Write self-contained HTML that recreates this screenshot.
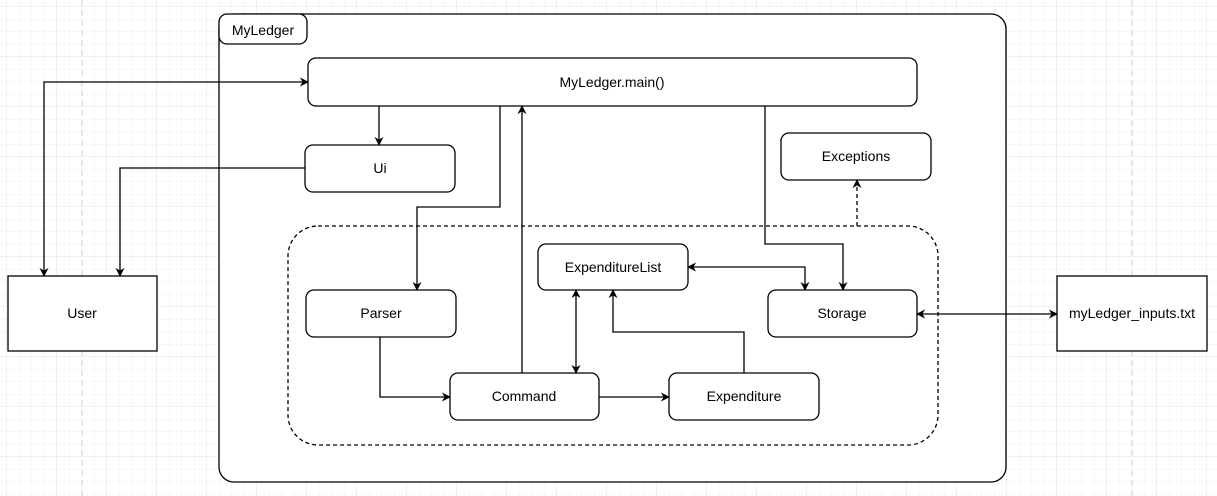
<!DOCTYPE html>
<html><head><meta charset="utf-8"><style>
html,body{margin:0;padding:0;background:#fff;}
svg{display:block;}
text{font-family:"Liberation Sans",Arial,sans-serif;font-size:14px;fill:#000;}
</style></head><body>
<svg width="1217" height="496" viewBox="0 0 1217 496" xmlns="http://www.w3.org/2000/svg">
<defs>
<pattern id="g1" width="12.5" height="12.5" patternUnits="userSpaceOnUse" x="7" y="7">
<path d="M12.5 0V12.5H0" fill="none" stroke="#f0f0f0" stroke-width="1"/>
</pattern>
<pattern id="g2" width="50" height="50" patternUnits="userSpaceOnUse" x="7" y="7">
<path d="M50 0V50H0" fill="none" stroke="#e0e0e0" stroke-width="1"/>
</pattern>
<marker id="a" viewBox="0 0 10 10" refX="9" refY="5" markerWidth="9" markerHeight="9" orient="auto-start-reverse" markerUnits="userSpaceOnUse">
<path d="M0 0L10 5L0 10L3 5Z" fill="#000"/>
</marker>
</defs>
<rect width="1217" height="496" fill="#fff"/>
<rect width="1217" height="496" fill="url(#g1)"/>
<rect width="1217" height="496" fill="url(#g2)"/>
<line x1="82" y1="0" x2="82" y2="496" stroke="#ccc" stroke-dasharray="6,4"/>
<line x1="1132" y1="0" x2="1132" y2="496" stroke="#ccc" stroke-dasharray="6,4"/>
<g fill="#fff" stroke="#000" stroke-width="1.3">
<rect x="219" y="14" width="787" height="468" rx="15"/>
<rect x="219" y="14" width="88" height="30" rx="8"/>
<rect x="288" y="226" width="650" height="219" rx="30" fill="none" stroke-dasharray="4,3"/>
<rect x="308" y="58" width="609" height="48" rx="8"/>
<rect x="305" y="145" width="150" height="47" rx="8"/>
<rect x="781" y="133" width="150" height="47" rx="8"/>
<rect x="538" y="244" width="150" height="46" rx="8"/>
<rect x="306" y="290" width="150" height="47" rx="8"/>
<rect x="768" y="290" width="149" height="47" rx="8"/>
<rect x="450" y="373" width="149" height="47" rx="8"/>
<rect x="669" y="373" width="150" height="47" rx="8"/>
<rect x="8" y="276" width="149" height="75"/>
<rect x="1057" y="276" width="150" height="75"/>
</g>
<g fill="none" stroke="#000" stroke-width="1.3">
<path d="M44 276V82H308" marker-start="url(#a)" marker-end="url(#a)"/>
<path d="M305 168H120V276" marker-end="url(#a)"/>
<path d="M379 106V145" marker-end="url(#a)"/>
<path d="M500 106V207H417V290" marker-end="url(#a)"/>
<path d="M522 373V106" marker-end="url(#a)"/>
<path d="M765 106V244H843V290" marker-end="url(#a)"/>
<path d="M688 267H805V290" marker-start="url(#a)" marker-end="url(#a)"/>
<path d="M857 226V180" stroke-dasharray="4,3" marker-end="url(#a)"/>
<path d="M917 314H1057" marker-start="url(#a)" marker-end="url(#a)"/>
<path d="M380 337V397H450" marker-end="url(#a)"/>
<path d="M599 397H669" marker-end="url(#a)"/>
<path d="M576 290V373" marker-start="url(#a)" marker-end="url(#a)"/>
<path d="M744 373V332H613V290" marker-end="url(#a)"/>
</g>
<g text-anchor="middle">
<text x="263" y="35">MyLedger</text>
<text x="612" y="87">MyLedger.main()</text>
<text x="380" y="173">Ui</text>
<text x="856" y="161">Exceptions</text>
<text x="613" y="272">ExpenditureList</text>
<text x="381" y="318">Parser</text>
<text x="842" y="318">Storage</text>
<text x="524" y="401">Command</text>
<text x="744" y="401">Expenditure</text>
<text x="82" y="318">User</text>
<text x="1132" y="318">myLedger_inputs.txt</text>
</g>
</svg>
</body></html>
